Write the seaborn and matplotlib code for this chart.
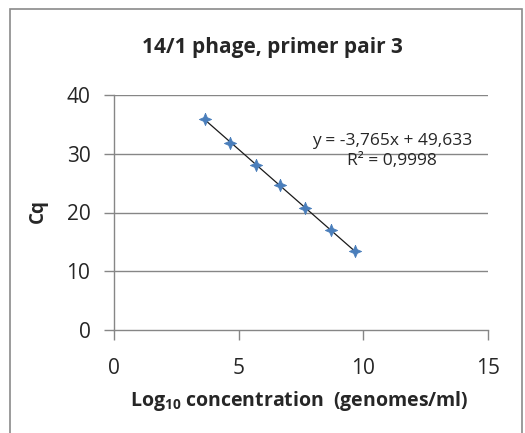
import numpy as np
import pandas as pd
import seaborn as sns
import matplotlib
matplotlib.use("Agg")
import matplotlib.pyplot as plt
from matplotlib.patches import Rectangle

# Data
log_conc = [3.65, 4.65, 5.70, 6.66, 7.66, 8.70, 9.67]
cq = [35.9, 31.9, 28.1, 24.6, 20.8, 17.0, 13.4]
eq_label = "y = -3,765x + 49,633"
r2_label = "R² = 0,9998"
title = "14/1 phage, primer pair 3"
x_ticks = [0, 5, 10, 15]
y_ticks = [0, 10, 20, 30, 40]

df = pd.DataFrame({"x": log_conc, "y": cq})

sns.set_theme(style="white")
plt.rcParams["font.family"] = ["Open Sans", "DejaVu Sans"]
plt.rcParams["mathtext.default"] = "regular"

W, H = 525, 433
fig = plt.figure(figsize=(W / 100, H / 100), dpi=100)
ax = fig.add_axes([114 / W, 1 - 330 / H, (488 - 114) / W, (330 - 95) / H])

grid_c = "#868686"
txt_c = "#262626"
ax.set_xlim(0, 15)
ax.set_ylim(0, 40)
ax.set_xticks(x_ticks)
ax.set_yticks(y_ticks)
for yv in y_ticks[1:]:
    ax.axhline(yv, color=grid_c, lw=1.0, zorder=0)

# trendline (linear fit drawn across the data range)
sns.regplot(data=df, x="x", y="y", ax=ax, ci=None, scatter=False, truncate=True,
            line_kws=dict(color="#1a1a1a", lw=0.9, zorder=2))
# markers: 4-pointed star
star = [(0, 1), (0.3, 0.3), (1, 0), (0.3, -0.3), (0, -1), (-0.3, -0.3), (-1, 0), (-0.3, 0.3), (0, 1)]
sns.scatterplot(data=df, x="x", y="y", ax=ax, marker=star, s=80, color="#4A7EBB",
                edgecolor="#4A7EBB", linewidth=0.5, zorder=3)

ax.set_xlabel("")
ax.set_ylabel("")
for s in ["top", "right"]:
    ax.spines[s].set_visible(False)
for s in ["left", "bottom"]:
    ax.spines[s].set_color(grid_c)
    ax.spines[s].set_linewidth(1.0)
ax.tick_params(axis="both", which="major", direction="out", length=7, width=1.0,
               color=grid_c, labelsize=15, labelcolor=txt_c)
ax.tick_params(axis="x", pad=13)
ax.tick_params(axis="y", pad=10)
ax.xaxis.set_ticks_position("bottom")
ax.yaxis.set_ticks_position("left")

fig.text(272 / W, 1 - 47 / H, title, ha="center", va="center", fontsize=15,
         fontweight="bold", color=txt_c)
fig.text(299 / W, 1 - 401 / H, "Log$_{10}$ concentration  (genomes/ml)", ha="center",
         va="center", fontsize=14, fontweight="bold", color=txt_c)
fig.text(38 / W, 1 - 211 / H, "Cq", ha="center", va="center", fontsize=13.5,
         fontweight="bold", rotation=90, color=txt_c)
fig.text(392 / W, 1 - 151 / H, eq_label + "\n" + r2_label, ha="center", va="center",
         fontsize=12.5, color=txt_c, linespacing=1.3)

fig.patches.append(Rectangle((10 / W, -0.1), (522 - 10) / W, 1.1 - 9 / H,
                             transform=fig.transFigure, fill=False,
                             edgecolor="#8a8a8a", lw=1.2))

fig.savefig("out.png", dpi=100, facecolor="white")
